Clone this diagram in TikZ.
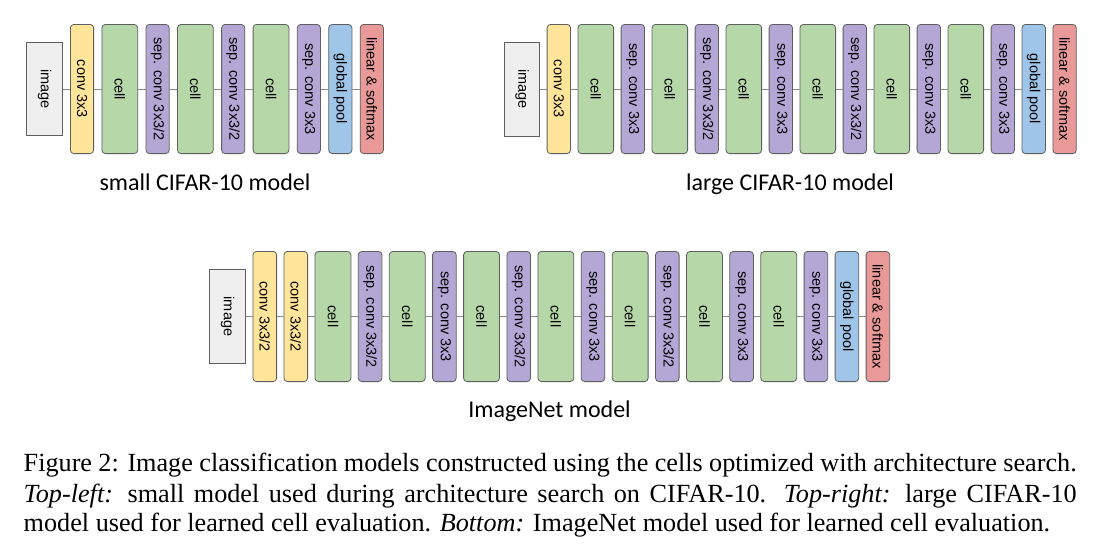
\documentclass[tikz,border=0pt]{standalone}
\usepackage{graphicx}
\usepackage{fontspec}
\setmainfont{Liberation Serif}
\newfontfamily\boxfont{Liberation Sans}
\newfontfamily\capfont{Carlito}
\usetikzlibrary{positioning}
\definecolor{imgfill}{HTML}{EFEFEF}
\definecolor{convfill}{HTML}{FFE599}
\definecolor{cellfill}{HTML}{B6D7A8}
\definecolor{sepfill}{HTML}{B4A7D6}
\definecolor{poolfill}{HTML}{9FC5E8}
\definecolor{linfill}{HTML}{EA9999}
\definecolor{edgec}{HTML}{5F5F5F}
\definecolor{wirec}{HTML}{8A8A8A}
\newcommand{\rt}[1]{\rotatebox{-90}{#1}}
\newcommand{\labfont}{\boxfont\fontsize{14.5}{16}\selectfont}
\newcommand{\mcapfont}{\capfont\fontsize{24}{28}\selectfont}
\begin{document}
\begin{tikzpicture}[x=1pt,y=-1pt,
  blk/.style={draw=edgec, line width=0.8pt, inner sep=0pt, font=\labfont, text=black},
  nar/.style={blk, rounded corners=3.5pt, minimum width=\nw, minimum height=\bh},
  wid/.style={blk, rounded corners=3.5pt, minimum width=\cw, minimum height=\bh},
  convb/.style={nar, fill=convfill},
  cellb/.style={wid, fill=cellfill},
  sepb/.style={nar, fill=sepfill},
  poolb/.style={nar, fill=poolfill},
  linb/.style={nar, fill=linfill},
  imgb/.style={blk, fill=imgfill, minimum width=\iw, minimum height=\ih},
  wire/.style={draw=wirec, line width=0.8pt},
  mcap/.style={font=\mcapfont, text=black, inner sep=0pt, anchor=base},
  fcap/.style={font=\fontsize{26.2}{30}\selectfont, text=black, inner sep=0pt, anchor=base west}
]
\fill[white] (0,0) rectangle (1093,544);
\useasboundingbox (0,0) rectangle (1093,544);

% ---------- small CIFAR-10 model ----------
\begin{scope}[node distance=7.5pt]
\def\nw{23.2pt}\def\cw{35.8pt}\def\bh{129.2pt}\def\iw{35.6pt}\def\ih{93.2pt}
\node[imgb, anchor=west] (s0) at (26.3,89) {\rt{image}};
\node[convb, right=7.3pt of s0] (s1) {\rt{conv 3x3}};
\node[cellb, right=of s1] (s2) {\rt{cell}};
\node[sepb, right=of s2] (s3) {\rt{sep. conv 3x3/2}};
\node[cellb, right=of s3] (s4) {\rt{cell}};
\node[sepb, right=of s4] (s5) {\rt{sep. conv 3x3/2}};
\node[cellb, right=of s5] (s6) {\rt{cell}};
\node[sepb, right=of s6] (s7) {\rt{sep. conv 3x3}};
\node[poolb, right=of s7] (s8) {\rt{global pool}};
\node[linb, right=of s8] (s9) {\rt{linear \& softmax}};
\foreach \a/\b in {s0/s1,s1/s2,s2/s3,s3/s4,s4/s5,s5/s6,s6/s7,s7/s8,s8/s9}
  \draw[wire] (\a) -- (\b);
\node[mcap] (capS) at (205,190.5) {small CIFAR-10 model};
\end{scope}

% ---------- large CIFAR-10 model ----------
\begin{scope}[node distance=6.7pt]
\def\nw{23.4pt}\def\cw{35.6pt}\def\bh{129.2pt}\def\iw{34.9pt}\def\ih{93.9pt}
\node[imgb, anchor=west] (l0) at (504.3,89) {\rt{image}};
\node[convb, right=of l0] (l1) {\rt{conv 3x3}};
\node[cellb, right=of l1] (l2) {\rt{cell}};
\node[sepb, right=of l2] (l3) {\rt{sep. conv 3x3}};
\node[cellb, right=of l3] (l4) {\rt{cell}};
\node[sepb, right=of l4] (l5) {\rt{sep. conv 3x3/2}};
\node[cellb, right=of l5] (l6) {\rt{cell}};
\node[sepb, right=of l6] (l7) {\rt{sep. conv 3x3}};
\node[cellb, right=of l7] (l8) {\rt{cell}};
\node[sepb, right=of l8] (l9) {\rt{sep. conv 3x3/2}};
\node[cellb, right=of l9] (l10) {\rt{cell}};
\node[sepb, right=of l10] (l11) {\rt{sep. conv 3x3}};
\node[cellb, right=of l11] (l12) {\rt{cell}};
\node[sepb, right=of l12] (l13) {\rt{sep. conv 3x3}};
\node[poolb, right=of l13] (l14) {\rt{global pool}};
\node[linb, right=of l14] (l15) {\rt{linear \& softmax}};
\foreach \a/\b in {l0/l1,l1/l2,l2/l3,l3/l4,l4/l5,l5/l6,l6/l7,l7/l8,l8/l9,l9/l10,l10/l11,l11/l12,l12/l13,l13/l14,l14/l15}
  \draw[wire] (\a) -- (\b);
\node[mcap] (capL) at (790,190.5) {large CIFAR-10 model};
\end{scope}

% ---------- ImageNet model ----------
\begin{scope}[node distance=6.6pt]
\def\nw{23.6pt}\def\cw{35.9pt}\def\bh{130.2pt}\def\iw{35.9pt}\def\ih{94.2pt}
\node[imgb, anchor=west] (b0) at (209.3,316.5) {\rt{image}};
\node[convb, right=of b0] (b1) {\rt{conv 3x3/2}};
\node[convb, right=of b1] (b2) {\rt{conv 3x3/2}};
\node[cellb, right=of b2] (b3) {\rt{cell}};
\node[sepb, right=of b3] (b4) {\rt{sep. conv 3x3/2}};
\node[cellb, right=of b4] (b5) {\rt{cell}};
\node[sepb, right=of b5] (b6) {\rt{sep. conv 3x3}};
\node[cellb, right=of b6] (b7) {\rt{cell}};
\node[sepb, right=of b7] (b8) {\rt{sep. conv 3x3/2}};
\node[cellb, right=of b8] (b9) {\rt{cell}};
\node[sepb, right=of b9] (b10) {\rt{sep. conv 3x3}};
\node[cellb, right=of b10] (b11) {\rt{cell}};
\node[sepb, right=of b11] (b12) {\rt{sep. conv 3x3/2}};
\node[cellb, right=of b12] (b13) {\rt{cell}};
\node[sepb, right=of b13] (b14) {\rt{sep. conv 3x3}};
\node[cellb, right=of b14] (b15) {\rt{cell}};
\node[sepb, right=of b15] (b16) {\rt{sep. conv 3x3}};
\node[poolb, right=of b16] (b17) {\rt{global pool}};
\node[linb, right=of b17] (b18) {\rt{linear \& softmax}};
\foreach \a/\b in {b0/b1,b1/b2,b2/b3,b3/b4,b4/b5,b5/b6,b6/b7,b7/b8,b8/b9,b9/b10,b10/b11,b11/b12,b12/b13,b13/b14,b14/b15,b15/b16,b16/b17,b17/b18}
  \draw[wire] (\a) -- (\b);
\node[mcap] (capI) at (549.5,417) {ImageNet model};
\end{scope}

% ---------- figure caption ----------
\node[fcap] (f1) at (23.5,471.7) {\makebox[1053pt][s]{Figure 2: Image classification models constructed using the cells optimized with architecture search.}};
\node[fcap] (f2) at (23.5,502.2) {\makebox[1053pt][s]{\textit{Top-left:} small model used during architecture search on CIFAR-10. \textit{Top-right:} large CIFAR-10}};
\node[fcap] (f3) at (23.5,531.2) {model used for learned cell evaluation. \textit{Bottom:} ImageNet model used for learned cell evaluation.};
\end{tikzpicture}
\end{document}
